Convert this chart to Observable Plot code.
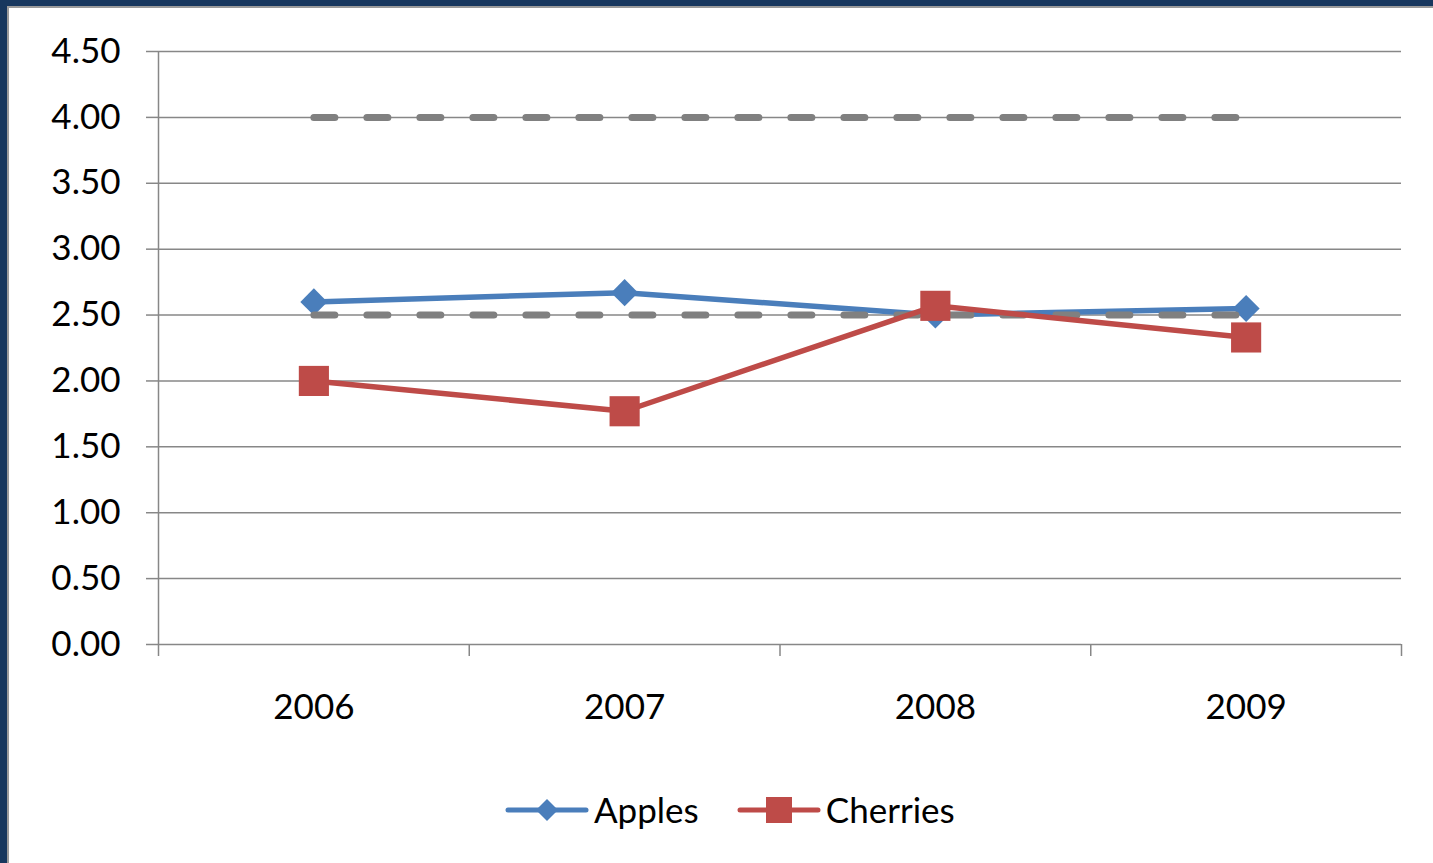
<!DOCTYPE html>
<html>
<head>
<meta charset="utf-8">
<script src="https://cdn.jsdelivr.net/npm/d3@7"></script>
<script src="https://cdn.jsdelivr.net/npm/@observablehq/plot@0.6"></script>
<style>
  html, body { margin: 0; padding: 0; background: #fff; }
  #frame {
    position: absolute; left: 0; top: 0; width: 1433px; height: 863px;
    box-sizing: border-box; background: #fff;
    border-left: 7px solid #17375e; border-top: 6px solid #17375e;
    font-family: Lato, "Open Sans", sans-serif;
  }
  #frame::before {
    content: ""; position: absolute; left: 0; top: 0; right: 0; bottom: 0;
    border-left: 2px solid #9a9a9a; border-top: 2px solid #9a9a9a; pointer-events: none;
  }
  #chart svg { display: block; }
  #legend {
    position: absolute; left: 498px; top: 786px;
    display: flex; align-items: center; font-size: 35px; color: #000; line-height: 1;
  }
  #legend .item { display: flex; align-items: center; }
  #legend .item + .item { margin-left: 38px; }
  #legend span { margin-left: 5px; }
</style>
</head>
<body>
<div id="frame">
  <div id="chart"></div>
  <div id="legend"></div>
</div>
<script>
// Yearly values per series
const years = [2006, 2007, 2008, 2009];
const apples = [2.60, 2.67, 2.50, 2.55];
const cherries = [2.00, 1.77, 2.57, 2.33];
// Upper and lower limit lines
const upperLimit = [4.00, 4.00, 4.00, 4.00];
const lowerLimit = [2.50, 2.50, 2.50, 2.50];
// Axis ticks
const yTicks = [0, 0.5, 1, 1.5, 2, 2.5, 3, 3.5, 4, 4.5];
const categoryEdges = [2005.5, 2006.5, 2007.5, 2008.5, 2009.5];

const seriesNames = ["Apples", "Cherries"];
const seriesColors = ["#4a7ebb", "#be4b48"];
const gridColor = "#878787";

const rows = (values) => years.map((year, i) => ({year, value: values[i]}));

const chart = Plot.plot({
  width: 1426,
  height: 740,
  marginLeft: 151,
  marginRight: 32,
  marginTop: 45,
  marginBottom: 102,
  style: {fontFamily: "Lato, 'Open Sans', sans-serif", fontSize: "35px", color: "#000", background: "#fff"},
  x: {domain: [categoryEdges[0], categoryEdges[categoryEdges.length - 1]]},
  y: {domain: [0, 4.5]},
  marks: [
    // horizontal gridlines
    Plot.gridY(yTicks, {stroke: gridColor, strokeOpacity: 1, strokeWidth: 1.5}),
    // vertical axis line
    Plot.ruleX([categoryEdges[0]], {y1: 0, y2: 4.5, stroke: gridColor, strokeWidth: 1.5}),
    Plot.axisY(yTicks, {
      tickSize: 12, tickPadding: 26, stroke: gridColor, strokeWidth: 1.5,
      fill: "#000", tickFormat: (d) => d.toFixed(2), label: null
    }),
    // category boundary ticks (no labels)
    Plot.axisX(categoryEdges, {tickSize: 12, stroke: gridColor, strokeWidth: 1.5, tickFormat: () => "", label: null}),
    // category labels
    Plot.axisX(years, {tickSize: 0, tickPadding: 50, fill: "#000", tickFormat: (d) => String(d), label: null}),
    // Apples
    Plot.line(rows(apples), {x: "year", y: "value", stroke: seriesColors[0], strokeWidth: 5.5}),
    Plot.dot(rows(apples), {x: "year", y: "value", symbol: "diamond2", r: 12.2, fill: seriesColors[0], stroke: "none"}),
    // limit lines
    Plot.line(rows(upperLimit), {x: "year", y: "value", stroke: "#808080", strokeWidth: 7, strokeDasharray: "21,32", strokeLinecap: "round"}),
    Plot.line(rows(lowerLimit), {x: "year", y: "value", stroke: "#808080", strokeWidth: 7, strokeDasharray: "21,32", strokeLinecap: "round"}),
    // Cherries
    Plot.line(rows(cherries), {x: "year", y: "value", stroke: seriesColors[1], strokeWidth: 5.5}),
    Plot.dot(rows(cherries), {x: "year", y: "value", symbol: "square", r: 17, fill: seriesColors[1], stroke: "none"})
  ]
});
document.getElementById("chart").appendChild(chart);

// Legend: line swatch with marker, then series name
const legend = d3.select("#legend");
seriesNames.forEach((name, i) => {
  const item = legend.append("div").attr("class", "item");
  const sw = item.append("svg").attr("width", 84).attr("height", 30);
  sw.append("line").attr("x1", 3).attr("x2", 81).attr("y1", 15).attr("y2", 15)
    .attr("stroke", seriesColors[i]).attr("stroke-width", 5).attr("stroke-linecap", "round");
  if (i === 0) {
    sw.append("path").attr("d", "M42,4L53,15L42,26L31,15Z").attr("fill", seriesColors[i]);
  } else {
    sw.append("rect").attr("x", 29).attr("y", 2).attr("width", 26).attr("height", 26).attr("fill", seriesColors[i]);
  }
  item.append("span").text(name);
});
</script>
</body>
</html>
